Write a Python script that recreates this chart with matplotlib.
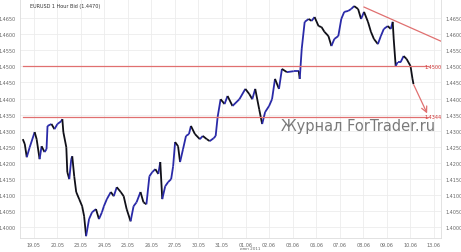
import numpy as np
import matplotlib
matplotlib.use("Agg")
import matplotlib.pyplot as plt
from matplotlib.collections import LineCollection

# hourly bar index and close price
hours = [0, 2, 4, 7, 12, 14, 17, 19, 22, 24, 25, 29, 32, 35, 39, 40, 41, 44, 45, 47,
         49, 50, 52, 54, 57, 60, 62, 64, 67, 70, 74, 77, 80, 82, 85, 89, 92, 95, 99, 102,
         105, 109, 112, 115, 119, 122, 125, 128, 131, 134, 137, 139, 141, 144, 147, 150, 152, 154, 157, 159,
         162, 165, 168, 170, 174, 179, 182, 186, 189, 193, 195, 197, 200, 204, 207, 212, 219, 225, 229, 232,
         235, 239, 242, 245, 249, 252, 255, 259, 262, 267, 274, 279, 280, 282, 285, 289, 292, 295, 299, 302,
         305, 309, 312, 315, 319, 322, 325, 329, 332, 335, 339, 342, 345, 349, 352, 355, 359, 362, 365, 369,
         372, 374, 375, 377, 379, 382, 385, 388, 392, 394, 395]
prices = [1.4274, 1.4259, 1.4218, 1.4249, 1.4296, 1.4274, 1.4212, 1.4252, 1.4234, 1.4243,
          1.4315, 1.4321, 1.4305, 1.4321, 1.4330, 1.4336, 1.4296, 1.4249, 1.4172, 1.4150,
          1.4212, 1.4221, 1.4159, 1.4110, 1.4088, 1.4066, 1.4035, 1.3973, 1.4026, 1.4047,
          1.4057, 1.4026, 1.4047, 1.4066, 1.4088, 1.4110, 1.4097, 1.4125, 1.4110, 1.4097,
          1.4057, 1.4019, 1.4066, 1.4078, 1.4110, 1.4078, 1.4072, 1.4159, 1.4172, 1.4181,
          1.4166, 1.4203, 1.4088, 1.4128, 1.4141, 1.4150, 1.4190, 1.4265, 1.4252, 1.4203,
          1.4243, 1.4284, 1.4290, 1.4315, 1.4290, 1.4274, 1.4284, 1.4274, 1.4268, 1.4277,
          1.4284, 1.4343, 1.4398, 1.4383, 1.4408, 1.4377, 1.4398, 1.4430, 1.4414, 1.4398,
          1.4430, 1.4367, 1.4321, 1.4358, 1.4377, 1.4398, 1.4461, 1.4430, 1.4492, 1.4482,
          1.4485, 1.4485, 1.4461, 1.4554, 1.4638, 1.4647, 1.4641, 1.4653, 1.4625, 1.4622,
          1.4607, 1.4594, 1.4563, 1.4585, 1.4594, 1.4647, 1.4669, 1.4672, 1.4678, 1.4687,
          1.4678, 1.4647, 1.4669, 1.4638, 1.4607, 1.4585, 1.4569, 1.4594, 1.4616, 1.4625,
          1.4616, 1.4638, 1.4585, 1.4501, 1.4513, 1.4513, 1.4532, 1.4523, 1.4501, 1.4461,
          1.4445]

day_labels = ["19.05", "20.05", "23.05", "24.05", "25.05", "26.05", "27.05", "30.05", "31.05",
              "01.06", "02.06", "03.06", "06.06", "07.06", "08.06", "09.06", "10.06", "13.06"]
y_ticks = [1.4000, 1.4050, 1.4100, 1.4150, 1.4200, 1.4250, 1.4300, 1.4350,
           1.4400, 1.4450, 1.4500, 1.4550, 1.4600, 1.4650]

level_hi = 1.4500
level_lo = 1.4344
trend_x = [345, 425]
trend_y = [1.4684, 1.4575]
arrow_x = [394, 410]
arrow_y = [1.4451, 1.4346]

red = "#e07070"

fig = plt.figure(figsize=(4.61, 2.53), dpi=100)
ax = fig.add_axes([0.043, 0.055, 0.914, 0.945])

x = np.array(hours)
y = np.array(prices)
segs = np.stack([np.column_stack([x[:-1], y[:-1]]), np.column_stack([x[1:], y[1:]])], axis=1)
cols = ["#2a2aa8" if b >= a else "#101018" for a, b in zip(y[:-1], y[1:])]
ax.add_collection(LineCollection(segs, colors=cols, linewidths=1.3))

ax.plot([0, 410], [level_hi, level_hi], color=red, lw=0.9)
ax.plot([0, 410], [level_lo, level_lo], color=red, lw=0.9)
ax.plot(trend_x, trend_y, color=red, lw=0.9)
ax.annotate("", xy=(arrow_x[1], arrow_y[1]), xytext=(arrow_x[0], arrow_y[0]),
            arrowprops=dict(arrowstyle="->", color=red, lw=0.9))
ax.text(423, level_hi, "1.4500", color="#d03030", fontsize=3.5, va="center", ha="right")
ax.text(423, level_lo, "1.4344", color="#d03030", fontsize=3.5, va="center", ha="right")

ax.text(0.62, 0.47, "Журнал ForTrader.ru", transform=ax.transAxes, fontsize=10.5,
        color="#7a7a7a", ha="left", va="center")
fig.text(0.065, 0.975, "EURUSD 1 Hour Bid (1.4470)", fontsize=3.5, color="#333333", va="center")

ax.set_xlim(-3, 423)
ax.set_ylim(1.3967, 1.4709)
ax.set_xticks(np.arange(len(day_labels)) * 23.8 + 11)
ax.set_xticklabels(day_labels)
ax.set_yticks(y_ticks)
ax.set_yticklabels(["%.4f" % v for v in y_ticks])
ax.tick_params(labelsize=3.5, labelcolor="#666666", length=0, pad=3,
               labelleft=True, labelright=True)
ax.grid(color="#ececec", lw=0.6)
for s in ax.spines.values():
    s.set_color("#dddddd")
    s.set_linewidth(0.6)
fig.text(0.52, 0.01, "июн 2011", fontsize=3, color="#666666")

fig.savefig("out.png", dpi=100)
